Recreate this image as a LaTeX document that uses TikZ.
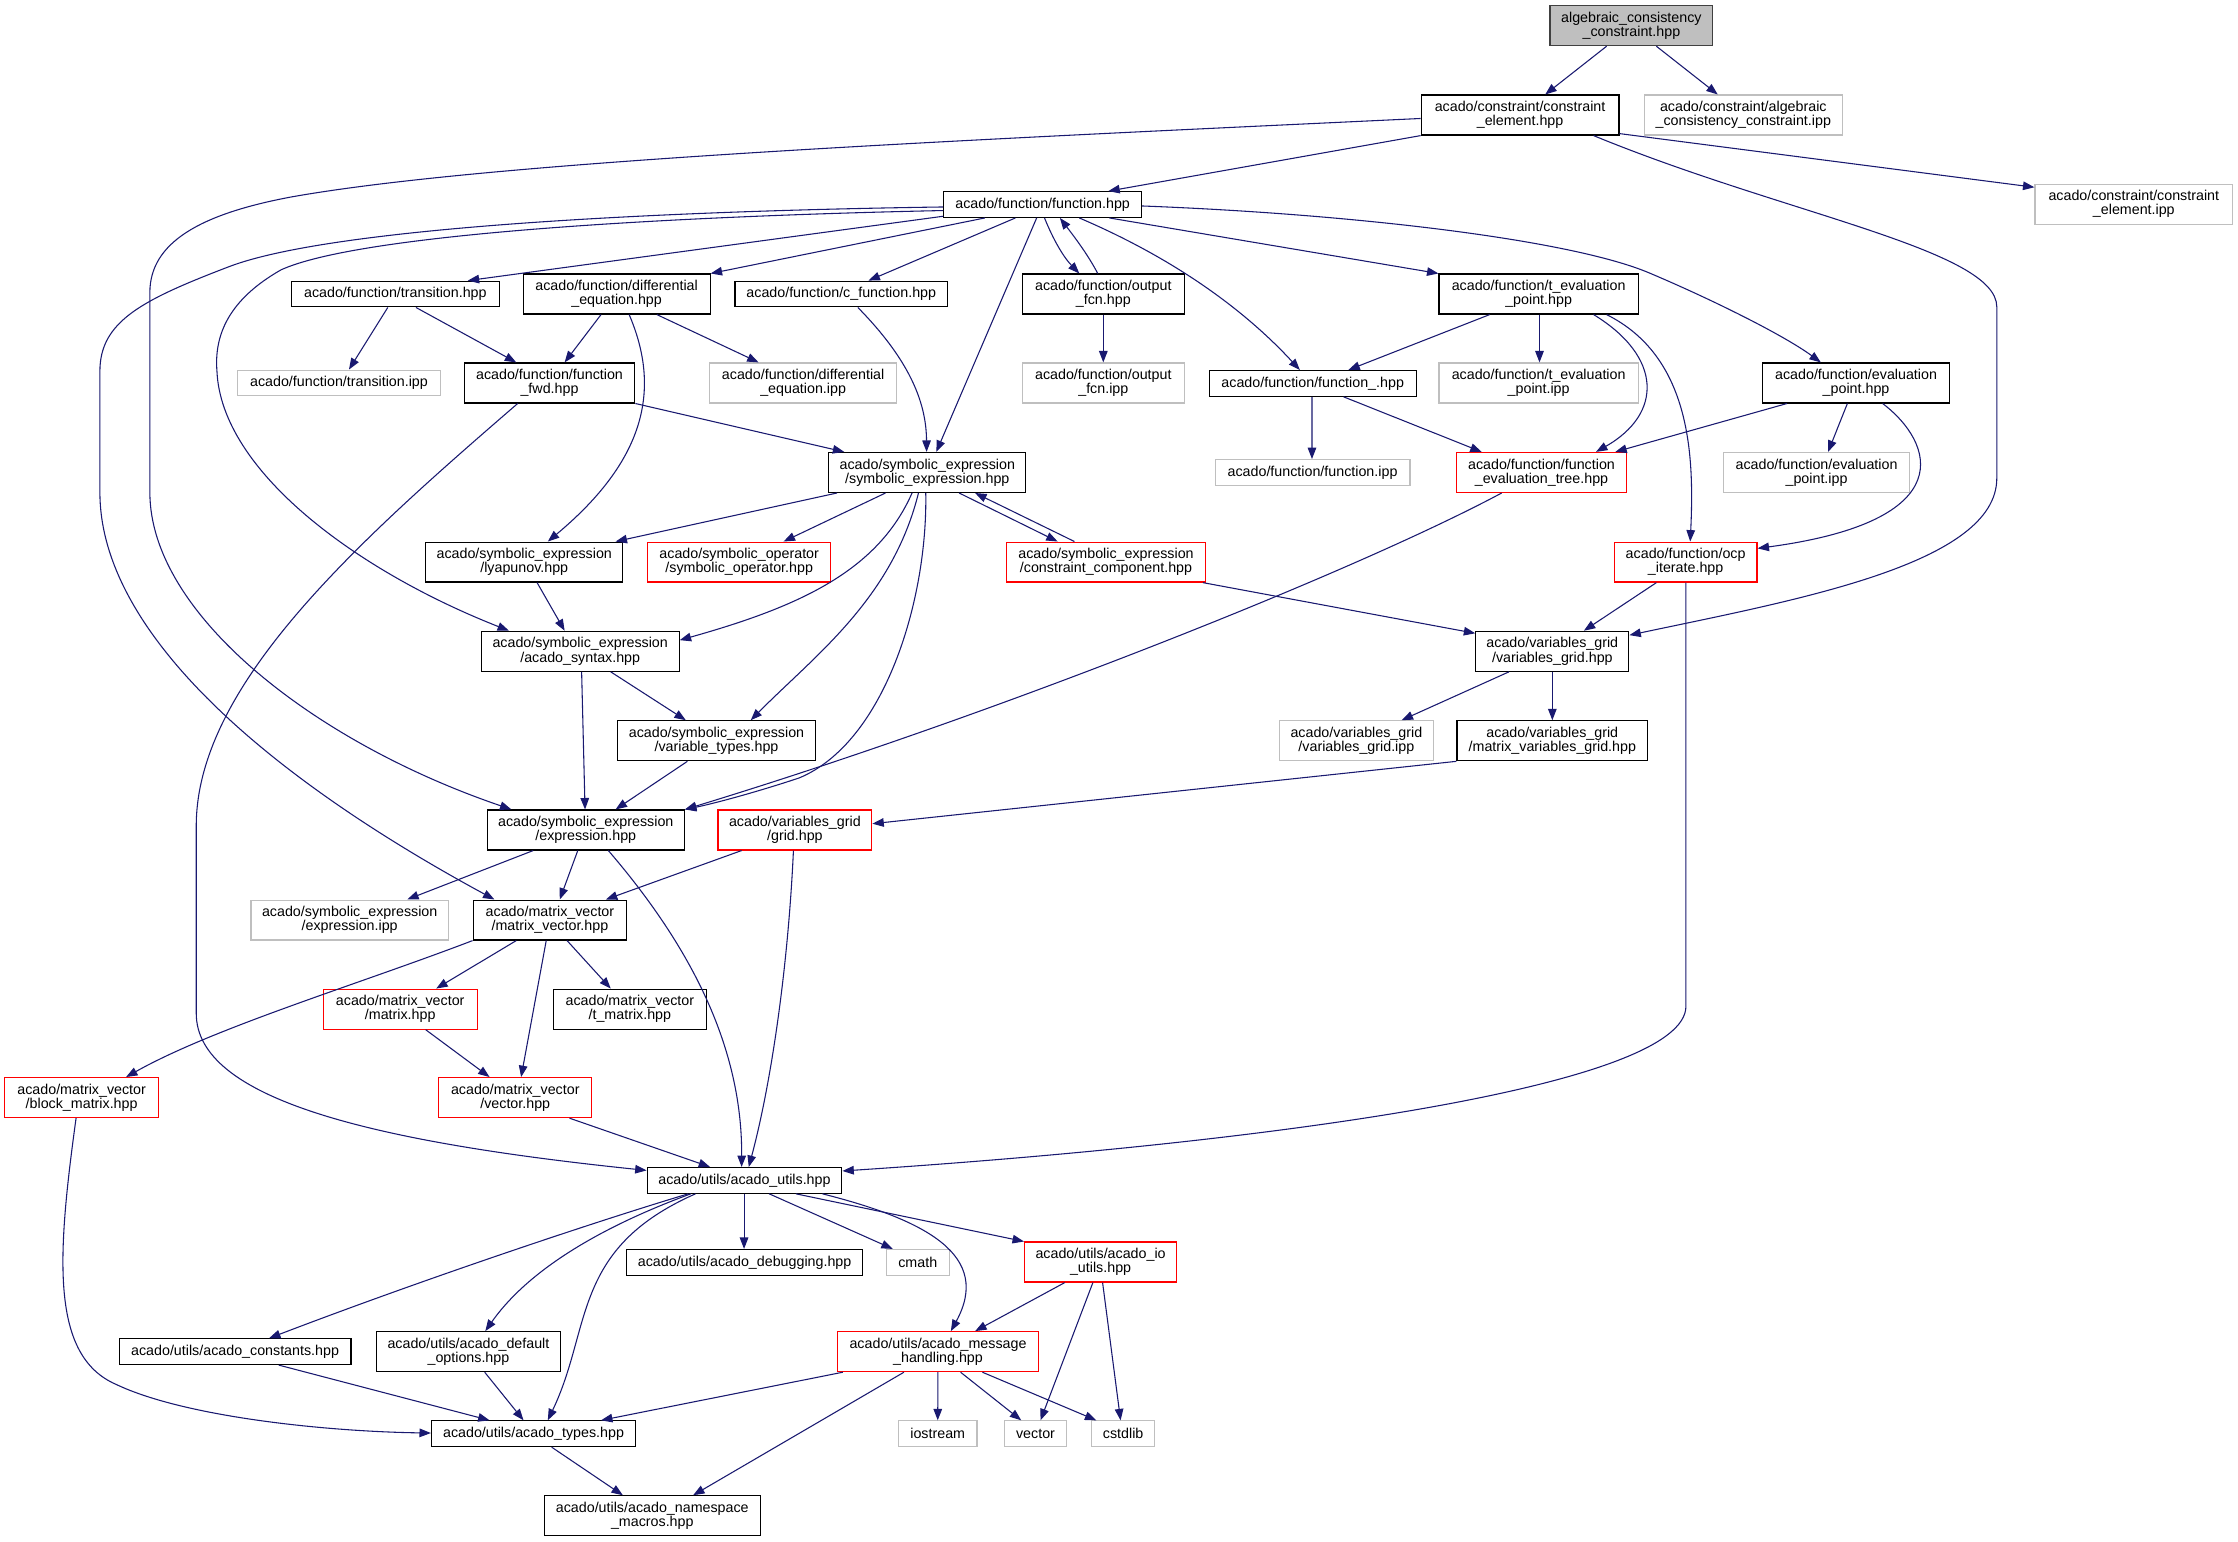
\documentclass[tikz,border=0pt]{standalone}
\usepackage{fontspec}
\setmainfont{Liberation Sans}
\usetikzlibrary{arrows.meta}
\definecolor{edgeblue}{RGB}{25,25,112}
\definecolor{nodegray}{RGB}{191,191,191}
\definecolor{nodered}{RGB}{255,0,0}
\definecolor{darkborder}{RGB}{64,64,64}
\begin{document}
\begin{tikzpicture}[x=1pt,y=-1pt,
  box/.style={rectangle, draw=black, line width=0.8pt, fill=white, inner sep=0pt, align=center, font=\fontsize{10}{10}\selectfont},
  nb/.style={box},
  nr/.style={box, draw=nodered},
  ng/.style={box, draw=nodegray},
  wh/.style 2 args={minimum width=#1, minimum height=#2},
  e/.style={draw=edgeblue, line width=0.75pt, -{Triangle[length=8pt,width=6pt]}}]
\useasboundingbox[fill=white] (0,0) rectangle (1568,1080);

% nodes
\node[nb, fill=nodegray, draw=darkborder, wh={114}{28}] (top) at (1143,18) {algebraic\_consistency\\\_constraint.hpp};
\node[nb, wh={138.5}{28}] (ceh) at (1065,80.6) {acado/constraint/constraint\\\_element.hpp};
\node[ng, wh={139}{28}] (acci) at (1221.4,80.6) {acado/constraint/algebraic\\\_consistency\_constraint.ipp};
\node[ng, wh={138.5}{28}] (cei) at (1495,143) {acado/constraint/constraint\\\_element.ipp};
\node[nb, wh={138.5}{18}] (fh) at (730.5,143.3) {acado/function/function.hpp};
\node[nb, wh={146}{18}] (trh) at (277,206) {acado/function/transition.hpp};
\node[nb, wh={131}{28}] (deh) at (432,206) {acado/function/differential\\\_equation.hpp};
\node[nb, wh={148.8}{18}] (cfh) at (589.4,206) {acado/function/c\_function.hpp};
\node[nb, wh={113.7}{28}] (ofh) at (773,206) {acado/function/output\\\_fcn.hpp};
\node[nb, wh={139.6}{28}] (teh) at (1078,206) {acado/function/t\_evaluation\\\_point.hpp};
\node[ng, wh={142}{18}] (tri) at (237.5,268.3) {acado/function/transition.ipp};
\node[nb, wh={119.5}{28}] (ffwd) at (385,268.3) {acado/function/function\\\_fwd.hpp};
\node[ng, wh={131}{28}] (dei) at (562.7,268.3) {acado/function/differential\\\_equation.ipp};
\node[ng, wh={113.7}{28}] (ofi) at (773,268.3) {acado/function/output\\\_fcn.ipp};
\node[nb, wh={145}{18}] (fuh) at (919.7,268.6) {acado/function/function\_.hpp};
\node[ng, wh={139.6}{28}] (tei) at (1078,268.3) {acado/function/t\_evaluation\\\_point.ipp};
\node[nb, wh={130.8}{28}] (eph) at (1300.4,268.3) {acado/function/evaluation\\\_point.hpp};
\node[nb, wh={138}{28}] (seh) at (649.7,331) {acado/symbolic\_expression\\/symbolic\_expression.hpp};
\node[ng, wh={136.6}{18}] (fi) at (919.6,331) {acado/function/function.ipp};
\node[nr, wh={119.6}{28}] (fet) at (1080,331) {acado/function/function\\\_evaluation\_tree.hpp};
\node[ng, wh={130.8}{28}] (epi) at (1272.7,331) {acado/function/evaluation\\\_point.ipp};
\node[nb, wh={138.2}{28}] (lyh) at (367.3,393.8) {acado/symbolic\_expression\\/lyapunov.hpp};
\node[nr, wh={128.3}{28}] (soh) at (517.9,393.8) {acado/symbolic\_operator\\/symbolic\_operator.hpp};
\node[nr, wh={139.2}{28}] (cch) at (774.9,393.8) {acado/symbolic\_expression\\/constraint\_component.hpp};
\node[nr, wh={100}{28}] (ocp) at (1181,393.8) {acado/function/ocp\\\_iterate.hpp};
\node[nb, wh={138.6}{28}] (syn) at (406.5,456.3) {acado/symbolic\_expression\\/acado\_syntax.hpp};
\node[nb, wh={107.2}{28}] (vgh) at (1087.6,456.3) {acado/variables\_grid\\/variables\_grid.hpp};
\node[nb, wh={138.6}{28}] (vth) at (502,519) {acado/symbolic\_expression\\/variable\_types.hpp};
\node[ng, wh={107.6}{28}] (vgi) at (950.3,519) {acado/variables\_grid\\/variables\_grid.ipp};
\node[nb, wh={133.6}{28}] (mvg) at (1087.6,519) {acado/variables\_grid\\/matrix\_variables\_grid.hpp};
\node[nb, wh={138.2}{28}] (exh) at (410.4,581.5) {acado/symbolic\_expression\\/expression.hpp};
\node[nr, wh={107.8}{28}] (grid) at (556.9,581.5) {acado/variables\_grid\\/grid.hpp};
\node[ng, wh={138.3}{28}] (exi) at (245,644.6) {acado/symbolic\_expression\\/expression.ipp};
\node[nb, wh={107.6}{28}] (mvh) at (385.3,644.6) {acado/matrix\_vector\\/matrix\_vector.hpp};
\node[nr, wh={107.7}{28}] (mah) at (280.4,707) {acado/matrix\_vector\\/matrix.hpp};
\node[nb, wh={107.6}{28}] (tmh) at (441.3,707) {acado/matrix\_vector\\/t\_matrix.hpp};
\node[nr, wh={107.6}{28}] (bmh) at (57.2,769) {acado/matrix\_vector\\/block\_matrix.hpp};
\node[nr, wh={107.4}{28}] (vch) at (361,769) {acado/matrix\_vector\\/vector.hpp};
\node[nb, wh={136.4}{18}] (uth) at (521.6,827) {acado/utils/acado\_utils.hpp};
\node[nb, wh={165.3}{18}] (dbg) at (521.7,884.4) {acado/utils/acado\_debugging.hpp};
\node[ng, wh={44}{18}] (cmath) at (643,884.4) {cmath};
\node[nr, wh={106.6}{28}] (iou) at (771.1,884.2) {acado/utils/acado\_io\\\_utils.hpp};
\node[nb, wh={162.4}{18}] (cst) at (164.7,947) {acado/utils/acado\_constants.hpp};
\node[nb, wh={129.4}{28}] (dfo) at (328.2,947) {acado/utils/acado\_default\\\_options.hpp};
\node[nr, wh={140.3}{28}] (msg) at (657.2,947) {acado/utils/acado\_message\\\_handling.hpp};
\node[nb, wh={143}{18}] (typ) at (373.8,1004.5) {acado/utils/acado\_types.hpp};
\node[ng, wh={55}{18}] (ios) at (657,1004.5) {iostream};
\node[ng, wh={43.8}{18}] (vec) at (725.5,1004.5) {vector};
\node[ng, wh={43.8}{18}] (csl) at (786.9,1004.5) {cstdlib};
\node[nb, wh={151.3}{28}] (nsm) at (457,1062) {acado/utils/acado\_namespace\\\_macros.hpp};

% edges
\draw[e] ([xshift=-17.4]top.south) -- ([xshift=17.6]ceh.north);
\draw[e] ([xshift=17.5]top.south) -- ([xshift=-17.9]acci.north);
\draw[e] ([yshift=-13]ceh.east) -- ([yshift=11.8]cei.west);
\draw[e] (ceh.south west) -- ([xshift=46]fh.north);
\draw[e] ([xshift=51.5]ceh.south) .. controls (1250,150) and (1399,175) .. (1399,215) -- (1399,335) .. controls (1399,395) and (1260,420) .. ([yshift=11.3]vgh.east);
\draw[e] ([yshift=-2.4]ceh.west) .. controls (700,97) and (350,112) .. (204,138) .. controls (140,150) and (105,170) .. (105,205) -- (105,345) .. controls (105,430) and (220,520) .. ([xshift=-52.1]exh.north);
\draw[e] ([yshift=-1.7]fh.west) .. controls (450,148) and (230,160) .. (160,187) .. controls (100,210) and (70,225) .. (70,260) -- (70,345) .. controls (70,440) and (180,540) .. ([xshift=-38.9]mvh.north);
\draw[e] ([yshift=-4.2]fh.west) .. controls (450,152) and (250,165) .. (197,189) .. controls (160,210) and (150,235) .. (152,260) .. controls (155,330) and (250,400) .. ([xshift=-49.9]syn.north);
\draw[e] ([yshift=-8.2]fh.west) -- ([xshift=50.7]trh.north);
\draw[e] ([xshift=-40.5]fh.south) -- (deh.north east);
\draw[e] ([xshift=-19.1]fh.south) -- ([xshift=19.1]cfh.north);
\draw[e] ([xshift=-4.2]fh.south) -- ([xshift=6.3]seh.north);
\draw[e] ([xshift=1.3]fh.south) .. controls (738,168) and (745,180) .. ([xshift=-16.8]ofh.north);
\draw[e] ([xshift=-3.9]ofh.north) .. controls (762,178) and (752,165) .. ([xshift=12.1]fh.south);
\draw[e] ([xshift=25.7]fh.south) .. controls (820,180) and (870,215) .. ([xshift=-9]fuh.north);
\draw[e] ([xshift=46.8]fh.south) -- (teh.north west);
\draw[e] ([yshift=-1]fh.east) .. controls (950,150) and (1100,168) .. (1155,191) .. controls (1200,210) and (1250,235) .. ([xshift=-24.7]eph.north);
\draw[e] ([xshift=-5.3]trh.south) -- ([xshift=7]tri.north);
\draw[e] ([xshift=14.4]trh.south) -- ([xshift=-23.3]ffwd.north);
\draw[e] ([xshift=-10.9]deh.south) -- ([xshift=10.6]ffwd.north);
\draw[e] ([xshift=28.2]deh.south) -- ([xshift=-31.2]dei.north);
\draw[e] ([xshift=8.8]deh.south) .. controls (462,270) and (455,320) .. ([xshift=16.5]lyh.north);
\draw[e] (ffwd.south east) -- ([xshift=-58.2]seh.north);
\draw[e] ([xshift=-22.3]ffwd.south) .. controls (250,380) and (138,480) .. (137.5,578) -- (137.5,710) .. controls (137.5,770) and (260,800) .. ([yshift=7]uth.west);
\draw[e] ([xshift=11.6]cfh.south) .. controls (640,255) and (649,285) .. ([xshift=-0.5]seh.north);
\draw[e] (ofh.south) -- (ofi.north);
\draw[e] ([xshift=-34.3]teh.south) -- ([xshift=25]fuh.north);
\draw[e] ([xshift=0.6]teh.south) -- ([xshift=0.6]tei.north);
\draw[e] ([xshift=38.5]teh.south) .. controls (1165,250) and (1165,290) .. ([xshift=38.2]fet.north);
\draw[e] ([xshift=47.6]teh.south) .. controls (1185,250) and (1187,320) .. ([xshift=3.2]ocp.north);
\draw[e] ([xshift=-0.5]fuh.south) -- ([xshift=-0.4]fi.north);
\draw[e] ([xshift=21.6]fuh.south) -- ([xshift=-41.9]fet.north);
\draw[e] ([xshift=-48.4]eph.south) -- ([xshift=51.7]fet.north);
\draw[e] ([xshift=-6.1]eph.south) -- ([xshift=8.1]epi.north);
\draw[e] ([xshift=18.6]eph.south) .. controls (1355,310) and (1375,365) .. ([yshift=9.6]ocp.east);
\draw[e] ([xshift=-27.9]fet.south) .. controls (950,400) and (700,500) .. (exh.north east);
\draw[e] ([xshift=-63.3]seh.south) -- ([xshift=64]lyh.north);
\draw[e] ([xshift=-29.3]seh.south) -- ([xshift=31.1]soh.north);
\draw[e] ([xshift=22.3]seh.south) -- ([xshift=-33.9]cch.north);
\draw[e] ([xshift=-22.1]cch.north) -- ([xshift=33.5]seh.south);
\draw[e] ([xshift=-10.7]seh.south) .. controls (615,400) and (560,425) .. ([yshift=7.8]syn.east);
\draw[e] ([xshift=-6.2]seh.south) .. controls (625,420) and (570,460) .. ([xshift=24]vth.north);
\draw[e] ([xshift=-1.1]seh.south) .. controls (650,420) and (620,520) .. (560,545) .. controls (530,555) and (500,563) .. (exh.north east);
\draw[e] ([xshift=67.9]cch.south) -- ([yshift=12.6]vgh.west);
\draw[e] ([xshift=-20.5]ocp.south) -- ([xshift=22.1]vgh.north);
\draw[e] ([xshift=0.2]ocp.south) -- (1181.2,705) .. controls (1181,760) and (900,800) .. ([yshift=6.6]uth.east);
\draw[e] ([xshift=9]lyh.south) -- ([xshift=-10.9]syn.north);
\draw[e] ([xshift=1]syn.south) -- ([xshift=-0.5]exh.north);
\draw[e] ([xshift=21.4]syn.south) -- ([xshift=-21.5]vth.north);
\draw[e] ([xshift=-20.4]vth.south) -- ([xshift=20.9]exh.north);
\draw[e] ([xshift=-30.4]vgh.south) -- ([xshift=31.7]vgi.north);
\draw[e] (vgh.south) -- (mvg.north);
\draw[e] (mvg.south west) -- ([yshift=4.4]grid.east);
\draw[e] ([xshift=-37.3]grid.south) -- ([xshift=39.2]mvh.north);
\draw[e] ([xshift=-1]grid.south) .. controls (552,680) and (540,760) .. ([xshift=3]uth.north);
\draw[e] ([xshift=-36.8]exh.south) -- ([xshift=40.3]exi.north);
\draw[e] ([xshift=-5.6]exh.south) -- ([xshift=6.9]mvh.north);
\draw[e] ([xshift=15.8]exh.south) .. controls (490,670) and (520,740) .. ([xshift=-2]uth.north);
\draw[e] (mvh.south west) .. controls (250,690) and (150,720) .. ([xshift=31.1]bmh.north);
\draw[e] ([xshift=-23.6]mvh.south) -- ([xshift=25.2]mah.north);
\draw[e] ([xshift=-2.6]mvh.south) -- ([xshift=4.1]vch.north);
\draw[e] ([xshift=12]mvh.south) -- ([xshift=-13.4]tmh.north);
\draw[e] ([xshift=17.8]mah.south) -- ([xshift=-18]vch.north);
\draw[e] ([xshift=38]vch.south) -- ([xshift=-24.1]uth.north);
\draw[e] ([xshift=-3.9]bmh.south) .. controls (40,880) and (35,950) .. (81.5,970) .. controls (130,993) and (230,1003) .. ([yshift=0.5]typ.west);
\draw[e] ([xshift=-39.4]uth.south) .. controls (420,855) and (300,895) .. ([xshift=23.8]cst.north);
\draw[e] ([xshift=-37.6]uth.south) .. controls (420,860) and (370,890) .. ([xshift=11.8]dfo.north);
\draw[e] ([xshift=-34.3]uth.south) .. controls (400,875) and (415,930) .. ([xshift=10]typ.north);
\draw[e] ([xshift=-0.3]uth.south) -- ([xshift=-0.4]dbg.north);
\draw[e] ([xshift=17.3]uth.south) -- ([xshift=-17.5]cmath.north);
\draw[e] ([xshift=36]uth.south) -- (iou.north west);
\draw[e] ([xshift=54.6]uth.south) .. controls (650,855) and (695,880) .. ([xshift=9]msg.north);
\draw[e] ([xshift=-25.1]iou.south) -- ([xshift=26]msg.north);
\draw[e] ([xshift=-5.4]iou.south) -- ([xshift=3.5]vec.north);
\draw[e] ([xshift=1.4]iou.south) -- ([xshift=-1.8]csl.north);
\draw[e] ([xshift=-66.7]msg.south) -- ([xshift=47.3]typ.north);
\draw[e] ([xshift=-23.9]msg.south) -- ([xshift=28.6]nsm.north);
\draw[e] ([xshift=-0.1]msg.south) -- (ios.north);
\draw[e] ([xshift=15.8]msg.south) -- ([xshift=-10]vec.north);
\draw[e] ([xshift=31.1]msg.south) -- ([xshift=-18.8]csl.north);
\draw[e] ([xshift=30.6]cst.south) -- ([xshift=-30.8]typ.north);
\draw[e] ([xshift=11.4]dfo.south) -- ([xshift=-7]typ.north);
\draw[e] ([xshift=12.7]typ.south) -- ([xshift=-20.6]nsm.north);
\end{tikzpicture}
\end{document}
